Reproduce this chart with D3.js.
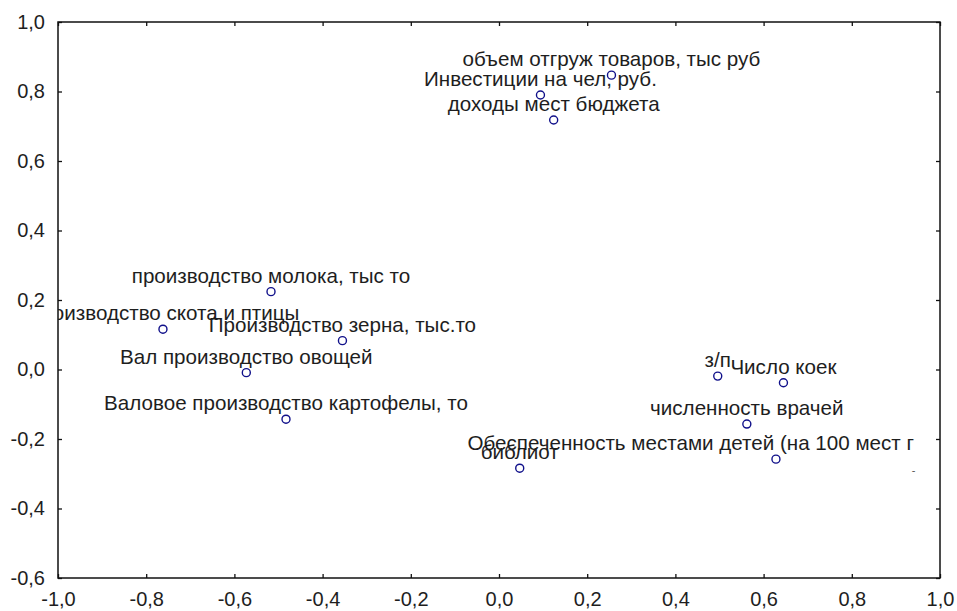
<!DOCTYPE html>
<html>
<head>
<meta charset="utf-8">
<script src="https://cdnjs.cloudflare.com/ajax/libs/d3/7.8.5/d3.min.js"></script>
<style>
  body { margin: 0; background: #fff; }
  text { font-family: "Liberation Sans", Arial, sans-serif; }
</style>
</head>
<body>
<script>
// variable names and their coordinates (factor 1 / factor 2)
var names = [
    "объем отгруж товаров, тыс руб",
    "Инвестиции на чел, руб.",
    "доходы мест бюджета",
    "производство молока, тыс то",
    "Производство скота и птицы",
    "Производство зерна, тыс.то",
    "Вал производство овощей",
    "Валовое производство картофелы, то",
    "з/п",
    "Число коек",
    "численность врачей",
    "Обеспеченность местами детей (на 100 мест г",
    "библиот"
];
var xVals = [0.255, 0.094, 0.124, -0.517, -0.762, -0.355, -0.573, -0.483, 0.496, 0.645, 0.562, 0.628, 0.047];
var yVals = [0.847, 0.790, 0.718, 0.224, 0.116, 0.083, -0.009, -0.143, -0.019, -0.038, -0.157, -0.258, -0.284];

var xTicks = [-1.0, -0.8, -0.6, -0.4, -0.2, 0.0, 0.2, 0.4, 0.6, 0.8, 1.0];
var yTicks = [-0.6, -0.4, -0.2, 0.0, 0.2, 0.4, 0.6, 0.8, 1.0];

// stray mark near the right edge
var strayText = ["-"];
var strayX = [0.94];
var strayY = [-0.3];

var margin = {top: 22, right: 17, bottom: 33, left: 58},
    width = 957 - margin.left - margin.right,
    height = 611 - margin.top - margin.bottom;

var locale = d3.formatLocale({decimal: ",", thousands: " ", grouping: [3], currency: ["", ""], minus: "-"});
var fmt = locale.format(".1f");

var svg = d3.select("body")
    .append("svg")
    .attr("width", 957)
    .attr("height", 611)
    .append("g")
    .attr("transform", "translate(" + margin.left + "," + margin.top + ")");

var x = d3.scaleLinear().domain([-1, 1]).range([0, width]);
var y = d3.scaleLinear().domain([-0.6, 1]).range([height, 0]);

svg.append("clipPath")
    .attr("id", "plotclip")
    .append("rect")
    .attr("width", width)
    .attr("height", height);

function styleAxis(g, showText) {
    g.select(".domain").remove();
    g.selectAll(".tick line").attr("stroke", "#111").attr("stroke-width", 1.3);
    g.selectAll(".tick text")
        .attr("fill", "#1e1e1e")
        .style("font-size", "20px")
        .style("display", showText ? null : "none");
}

svg.append("g")
    .attr("transform", "translate(0," + height + ")")
    .call(d3.axisBottom(x).tickValues(xTicks).tickFormat(fmt).tickSizeInner(-4).tickSizeOuter(0).tickPadding(14))
    .call(styleAxis, true);

svg.append("g")
    .call(d3.axisTop(x).tickValues(xTicks).tickFormat(fmt).tickSizeInner(-4).tickSizeOuter(0))
    .call(styleAxis, false);

svg.append("g")
    .call(d3.axisLeft(y).tickValues(yTicks).tickFormat(fmt).tickSizeInner(-4).tickSizeOuter(0).tickPadding(13))
    .call(styleAxis, true);

svg.append("g")
    .attr("transform", "translate(" + width + ",0)")
    .call(d3.axisRight(y).tickValues(yTicks).tickFormat(fmt).tickSizeInner(-4).tickSizeOuter(0))
    .call(styleAxis, false);

// frame
svg.append("rect")
    .attr("width", width)
    .attr("height", height)
    .attr("fill", "none")
    .attr("stroke", "#111")
    .attr("stroke-width", 1.5);

var data = names.map(function(n, i) {
    return {name: n, x: xVals[i], y: yVals[i]};
});

// labels: centred above the point, pushed back in if they run past the right side
var labels = svg.append("g")
    .attr("clip-path", "url(#plotclip)")
    .selectAll("text")
    .data(data)
    .enter().append("text")
    .attr("x", function(d) { return x(d.x); })
    .attr("y", function(d) { return y(d.y) - 9; })
    .attr("text-anchor", "middle")
    .attr("fill", "#1e1e1e")
    .style("font-size", "20.6px")
    .text(function(d) { return d.name; });

labels.each(function(d) {
    var w = this.getComputedTextLength();
    var right = x(d.x) + w / 2;
    if (right > width - 26) {
        d3.select(this).attr("x", width - 26 - w / 2);
    }
});

svg.selectAll(".stray")
    .data(strayText)
    .enter().append("text")
    .attr("class", "stray")
    .attr("x", function(d, i) { return x(strayX[i]); })
    .attr("y", function(d, i) { return y(strayY[i]); })
    .attr("text-anchor", "middle")
    .attr("fill", "#555")
    .style("font-size", "11px")
    .text(function(d) { return d; });

svg.selectAll(".pt")
    .data(data)
    .enter().append("circle")
    .attr("class", "pt")
    .attr("cx", function(d) { return x(d.x); })
    .attr("cy", function(d) { return y(d.y); })
    .attr("r", 4)
    .attr("fill", "none")
    .attr("stroke", "#10108a")
    .attr("stroke-width", 1.4);
</script>
</body>
</html>
